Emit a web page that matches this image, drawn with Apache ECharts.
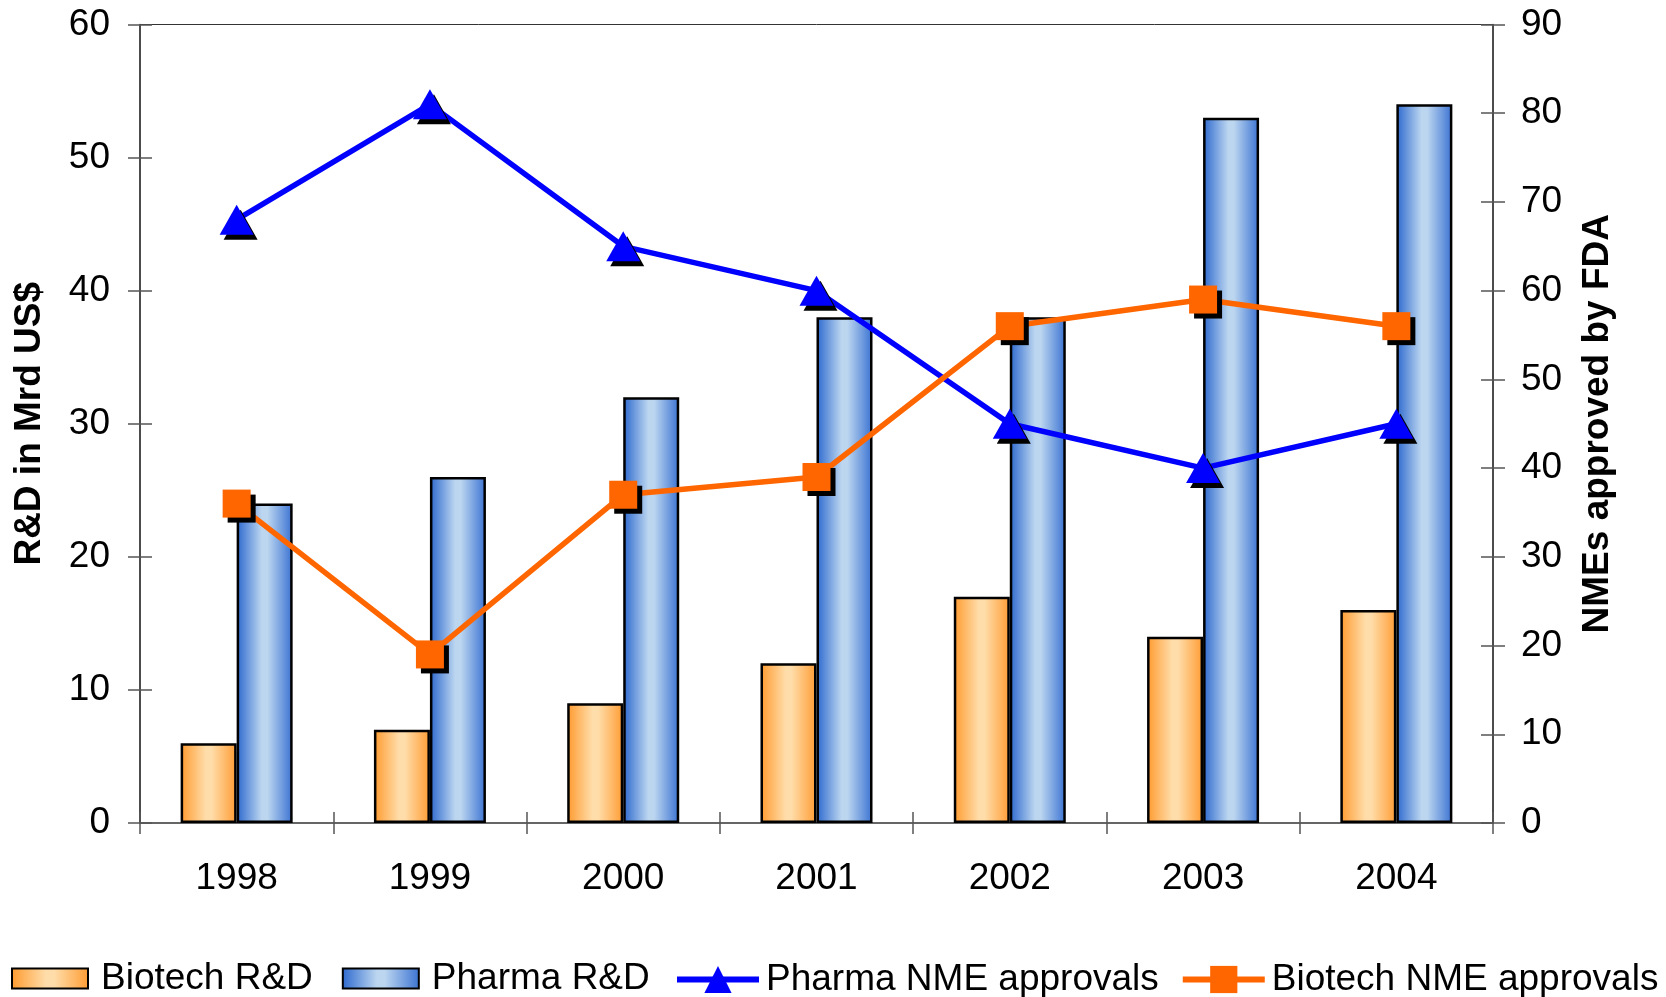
<!DOCTYPE html>
<html>
<head>
<meta charset="utf-8">
<script src="https://cdn.jsdelivr.net/npm/echarts@6/dist/echarts.min.js"></script>
<style>
html,body{margin:0;padding:0;background:#fff;}
#chart{width:1666px;height:997px;}
</style>
</head>
<body>
<div id="chart"></div>
<script>
const categories = ['1998','1999','2000','2001','2002','2003','2004'];
const biotechRD = [6, 7, 9, 12, 17, 14, 16];
const pharmaRD = [24, 26, 32, 38, 38, 53, 54];
const pharmaNME = [68, 81, 65, 60, 45, 40, 45];
const biotechNME = [36, 19, 37, 39, 56, 59, 56];
const leftTicks = {min: 0, max: 60, interval: 10};
const rightTicks = {min: 0, max: 90, interval: 10};

const FONT = "Arial, 'Liberation Sans', sans-serif";
const FS = 37;
const chart = echarts.init(document.getElementById('chart'));

function grad(edge, mid, edge2) {
  return new echarts.graphic.LinearGradient(0, 0, 1, 0, [
    {offset: 0, color: edge},
    {offset: 0.45, color: mid},
    {offset: 0.55, color: mid},
    {offset: 1, color: edge2}
  ]);
}
const orangeGrad = grad('#FF9A2E', '#FFDDAA', '#FF9C33');
const blueGrad = grad('#2C68CE', '#BCD6F0', '#3A72D2');

const tickColor = '#555';
const axisColor = '#333';

const option = {
  backgroundColor: '#fff',
  animation: false,
  grid: {left: 140, right: 173, top: 24.5, bottom: 174, show: true, borderColor: axisColor, borderWidth: 1, backgroundColor: 'transparent'},
  legend: [
    {
      left: 6, top: 955,
      itemWidth: 76, itemHeight: 20, itemGap: 29,
      icon: 'rect',
      textStyle: {fontFamily: FONT, fontSize: FS, color: '#000', padding: [0, 0, 0, 8]},
      data: ['Biotech R&D', 'Pharma R&D']
    },
    {
      left: 669, top: 956, width: 995,
      itemWidth: 82, itemHeight: 34, itemGap: 21,
      textStyle: {fontFamily: FONT, fontSize: FS, color: '#000', padding: [0, 0, 0, 2]},
      data: [
        {name: 'Pharma NME approvals', lineStyle: {width: 6}},
        {name: 'Biotech NME approvals', lineStyle: {width: 6}}
      ]
    }
  ],
  xAxis: [
    {
      type: 'category', data: categories, position: 'bottom',
      axisLine: {lineStyle: {color: '#555', width: 1.5}},
      axisTick: {show: true, length: 11, lineStyle: {color: tickColor, width: 1.5}},
      axisLabel: {fontFamily: FONT, fontSize: FS, color: '#000', margin: 37}
    },
    {
      type: 'category', data: categories, position: 'bottom',
      axisLine: {show: false},
      axisTick: {show: true, inside: true, length: 11, lineStyle: {color: tickColor, width: 1.5}},
      axisLabel: {show: false}
    }
  ],
  yAxis: [
    {
      type: 'value', position: 'left', min: leftTicks.min, max: leftTicks.max, interval: leftTicks.interval,
      name: 'R&D in Mrd US$', nameLocation: 'middle', nameRotate: 90, nameGap: 92,
      nameTextStyle: {fontFamily: FONT, fontSize: FS, fontWeight: 'bold', color: '#000'},
      axisLine: {show: true, lineStyle: {color: axisColor, width: 1.5}},
      axisTick: {show: true, length: 12, lineStyle: {color: tickColor, width: 1.5}},
      axisLabel: {fontFamily: FONT, fontSize: FS, color: '#000', margin: 30},
      splitLine: {show: false}
    },
    {
      type: 'value', position: 'right', min: rightTicks.min, max: rightTicks.max, interval: rightTicks.interval,
      name: 'NMEs approved by FDA', nameLocation: 'middle', nameRotate: 90, nameGap: 86,
      nameTextStyle: {fontFamily: FONT, fontSize: FS, fontWeight: 'bold', color: '#000'},
      axisLine: {show: true, lineStyle: {color: axisColor, width: 1.5}},
      axisTick: {show: true, length: 12, lineStyle: {color: tickColor, width: 1.5}},
      axisLabel: {fontFamily: FONT, fontSize: FS, color: '#000', margin: 28},
      splitLine: {show: false}
    },
    {
      type: 'value', position: 'left', min: leftTicks.min, max: leftTicks.max, interval: leftTicks.interval,
      axisLine: {show: false},
      axisTick: {show: true, inside: true, length: 12, lineStyle: {color: tickColor, width: 1.5}},
      axisLabel: {show: false}, splitLine: {show: false}
    },
    {
      type: 'value', position: 'right', min: rightTicks.min, max: rightTicks.max, interval: rightTicks.interval,
      axisLine: {show: false},
      axisTick: {show: true, inside: true, length: 12, lineStyle: {color: tickColor, width: 1.5}},
      axisLabel: {show: false}, splitLine: {show: false}
    }
  ],
  series: [
    {
      name: 'Biotech R&D', type: 'bar', data: biotechRD, yAxisIndex: 0,
      barWidth: 56, barGap: '0%',
      itemStyle: {color: orangeGrad, borderColor: '#000', borderWidth: 2.5}
    },
    {
      name: 'Pharma R&D', type: 'bar', data: pharmaRD, yAxisIndex: 0,
      barWidth: 56, barGap: '0%',
      itemStyle: {color: blueGrad, borderColor: '#000', borderWidth: 2.5}
    },
    {
      name: 'Pharma NME approvals', type: 'line', data: pharmaNME, yAxisIndex: 1,
      symbol: 'triangle', symbolSize: [34, 30],
      lineStyle: {color: '#0000FF', width: 5.5},
      itemStyle: {color: '#0000FF', shadowColor: '#000', shadowOffsetX: 4, shadowOffsetY: 5, shadowBlur: 0}
    },
    {
      name: 'Biotech NME approvals', type: 'line', data: biotechNME, yAxisIndex: 1,
      symbol: 'rect', symbolSize: 28,
      lineStyle: {color: '#FF6600', width: 5.5},
      itemStyle: {color: '#FF6600', shadowColor: '#000', shadowOffsetX: 5, shadowOffsetY: 5, shadowBlur: 0}
    }
  ]
};
chart.setOption(option);
</script>
</body>
</html>
